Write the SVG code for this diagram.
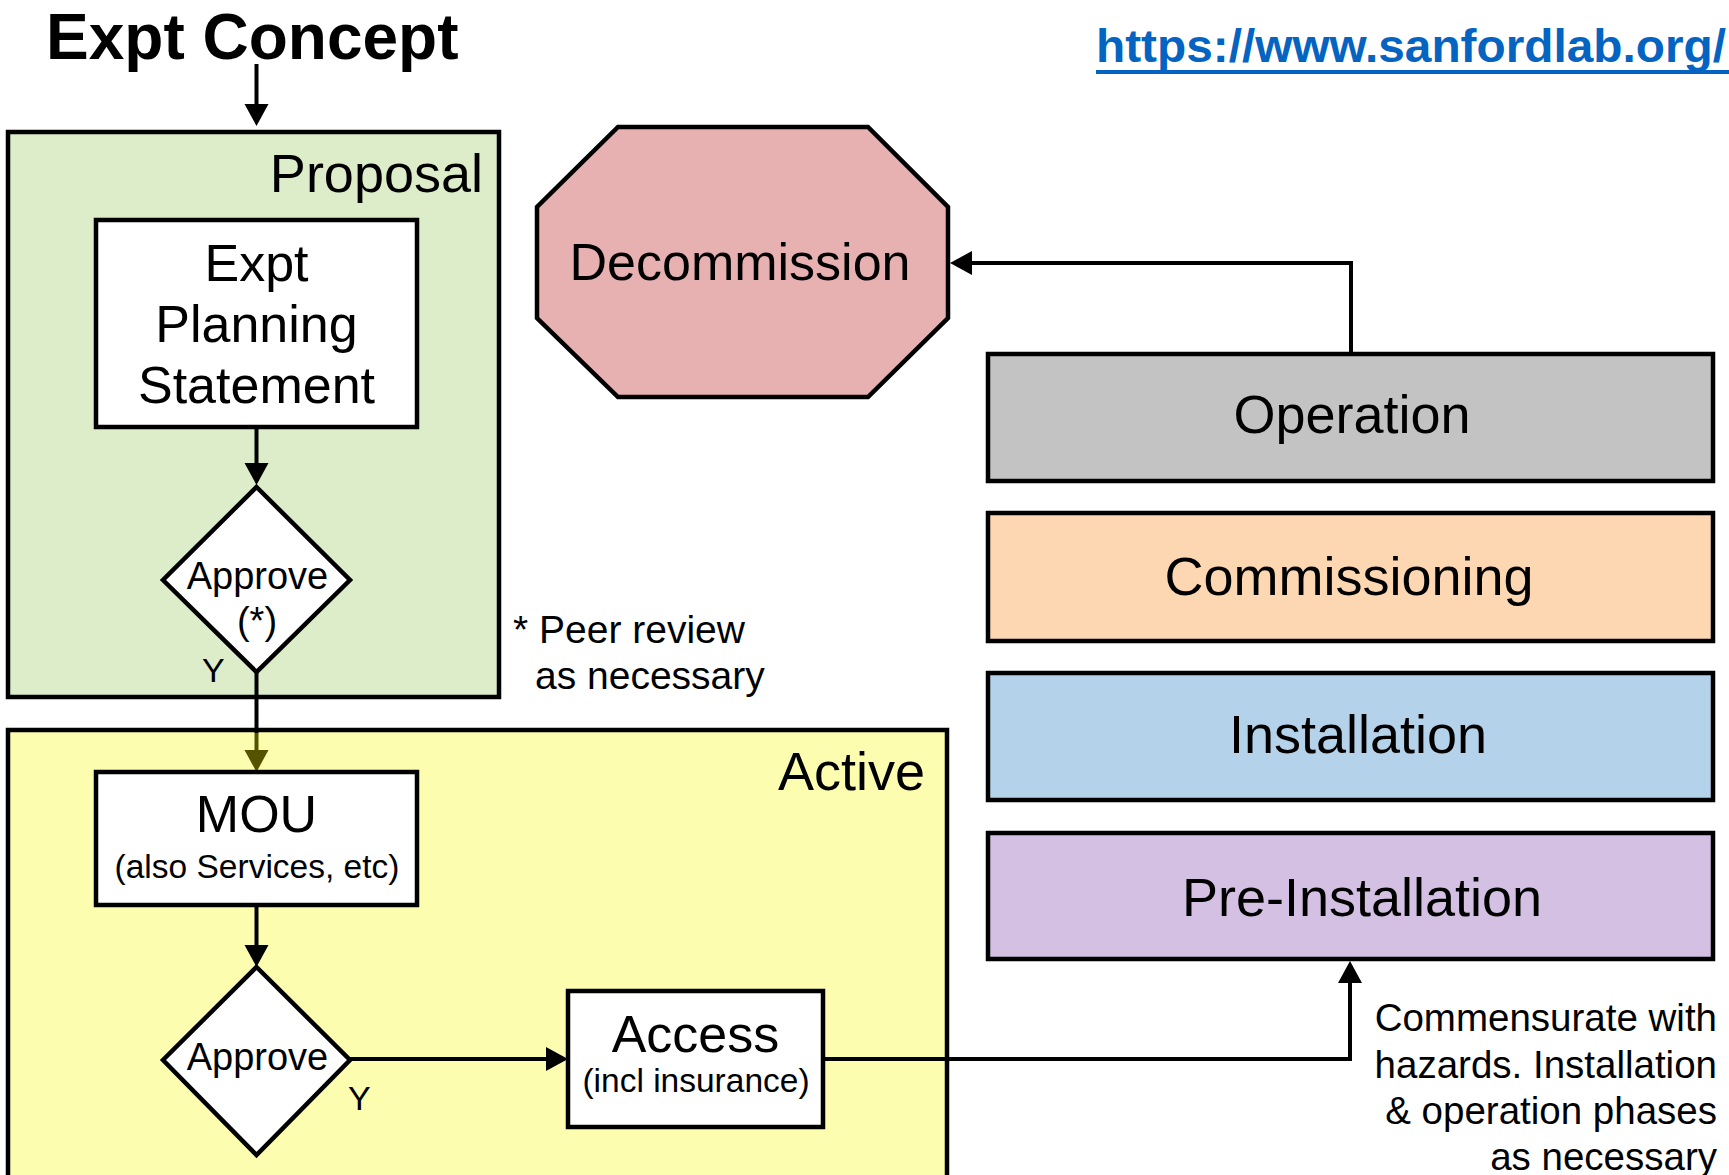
<svg xmlns="http://www.w3.org/2000/svg" width="1729" height="1175" viewBox="0 0 1729 1175">
  <style>
    text { font-family: "Liberation Sans", Arial, Helvetica, sans-serif; fill: #000; }
    .box { stroke: #000; stroke-width: 4.5; stroke-linejoin: miter; }
    .white { fill: #fff; }
    .lbl { text-anchor: middle; }
    .big { font-size: 52px; }
    .small { font-size: 33.5px; }
    .phase { font-size: 54px; text-anchor: middle; }
    .wire { fill: none; stroke: #000; stroke-width: 4; }
  </style>
  <defs>
    <marker id="ah" markerUnits="userSpaceOnUse" markerWidth="22" markerHeight="24" viewBox="0 0 22 24" refX="0" refY="12" orient="auto" overflow="visible">
      <path d="M0,0 L22,12 L0,24 Z" fill="#000"/>
    </marker>
    <marker id="ah-olive" markerUnits="userSpaceOnUse" markerWidth="22" markerHeight="24" viewBox="0 0 22 24" refX="0" refY="12" orient="auto" overflow="visible">
      <path d="M0,0 L22,12 L0,24 Z" fill="#555300"/>
    </marker>
  </defs>

  <rect width="1729" height="1175" fill="#fff"/>

  <!-- title and link -->
  <g id="title">
    <text x="46" y="59" font-size="64" font-weight="bold">Expt Concept</text>
  </g>
  <g id="link">
    <text x="1096" y="62" font-size="46" font-weight="bold" fill="#0563c1" style="fill:#0563c1" textLength="630" lengthAdjust="spacingAndGlyphs">https://www.sanfordlab.org/</text>
    <rect x="1096" y="70" width="633" height="4" fill="#0563c1"/>
  </g>

  <!-- phase containers -->
  <g id="proposal">
    <rect class="box" x="8" y="132" width="491" height="565" fill="#ddedc9"/>
    <text x="483" y="192" font-size="54" text-anchor="end">Proposal</text>
  </g>
  <g id="active">
    <rect class="box" x="8" y="730" width="939" height="480" fill="#fdfdb0"/>
    <text x="925" y="790" font-size="54" text-anchor="end">Active</text>
  </g>

  <!-- connectors -->
  <g id="connectors">
    <path class="wire" d="M256.5,64 V104" marker-end="url(#ah)"/>
    <path class="wire" d="M256.5,427 V463" marker-end="url(#ah)"/>
    <path class="wire" d="M256.5,672 V733"/>
    <path class="wire" d="M256.5,733 V750" stroke="#555300" style="stroke:#555300" marker-end="url(#ah-olive)"/>
    <path class="wire" d="M256.5,905 V945" marker-end="url(#ah)"/>
    <path class="wire" d="M350,1059 H546" marker-end="url(#ah)"/>
    <path class="wire" d="M823,1059 H1350 V983" marker-end="url(#ah)"/>
    <path class="wire" d="M1351,354 V263 H972" marker-end="url(#ah)"/>
  </g>

  <!-- proposal steps -->
  <g id="planning-statement">
    <rect class="box white" x="96" y="220" width="321" height="207"/>
    <text class="lbl big" x="256.5" y="281">Expt</text>
    <text class="lbl big" x="256.5" y="342">Planning</text>
    <text class="lbl big" x="256.5" y="403">Statement</text>
  </g>
  <g id="approve-proposal">
    <polygon class="box white" points="256.5,487 350,580 256.5,672 163,580"/>
    <text class="lbl" x="257.5" y="589" font-size="38">Approve</text>
    <text class="lbl" x="257" y="634" font-size="38">(*)</text>
    <text x="202" y="682" font-size="34">Y</text>
  </g>
  <g id="peer-note">
    <text x="513" y="643" font-size="39">* Peer review</text>
    <text x="535" y="689" font-size="39">as necessary</text>
  </g>

  <!-- active steps -->
  <g id="mou">
    <rect class="box white" x="96" y="772" width="321" height="133"/>
    <text class="lbl" x="256.5" y="832" font-size="52">MOU</text>
    <text class="lbl small" x="257" y="878">(also Services, etc)</text>
  </g>
  <g id="approve-active">
    <polygon class="box white" points="256.5,967 350,1060 256.5,1155 163,1060"/>
    <text class="lbl" x="257.5" y="1070" font-size="38">Approve</text>
    <text x="348" y="1110" font-size="34">Y</text>
  </g>
  <g id="access">
    <rect class="box white" x="568" y="991" width="255" height="136"/>
    <text class="lbl" x="695.5" y="1052" font-size="52">Access</text>
    <text class="lbl small" x="696" y="1092">(incl insurance)</text>
  </g>

  <!-- end of life -->
  <g id="decommission">
    <polygon class="box" fill="#e8b1b1" points="618,127 868,127 948,207 948,318 868,397 618,397 537,318 537,207"/>
    <text class="lbl" x="740" y="280" font-size="52">Decommission</text>
  </g>

  <!-- lifecycle stages -->
  <g id="operation">
    <rect class="box" fill="#c3c3c3" x="988" y="354" width="725" height="127"/>
    <text class="phase" x="1352" y="433">Operation</text>
  </g>
  <g id="commissioning">
    <rect class="box" fill="#fdd7b2" x="988" y="513" width="725" height="128"/>
    <text class="phase" x="1349" y="595">Commissioning</text>
  </g>
  <g id="installation">
    <rect class="box" fill="#b4d3eb" x="988" y="673" width="725" height="127"/>
    <text class="phase" x="1358" y="753">Installation</text>
  </g>
  <g id="pre-installation">
    <rect class="box" fill="#d4c0e2" x="988" y="833" width="725" height="126"/>
    <text class="phase" x="1362" y="916">Pre-Installation</text>
  </g>
  <g id="hazard-note" font-size="38.5" text-anchor="end">
    <text x="1717" y="1031">Commensurate with</text>
    <text x="1717" y="1078">hazards. Installation</text>
    <text x="1717" y="1124">&amp; operation phases</text>
    <text x="1717" y="1170">as necessary</text>
  </g>
</svg>
